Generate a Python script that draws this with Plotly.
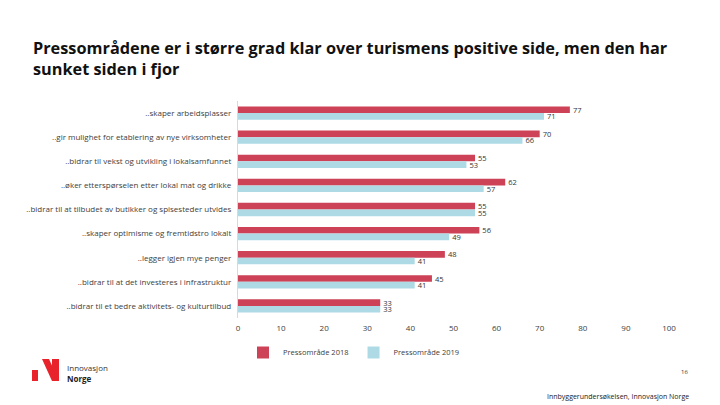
import plotly.graph_objects as go

categories = [
    "..skaper arbeidsplasser",
    "..gir mulighet for etablering av nye virksomheter",
    "..bidrar til vekst og utvikling i lokalsamfunnet",
    "..øker etterspørselen etter lokal mat og drikke",
    "..bidrar til at tilbudet av butikker og spisesteder utvides",
    "..skaper optimisme og fremtidstro lokalt",
    "..legger igjen mye penger",
    "..bidrar til at det investeres i infrastruktur",
    "..bidrar til et bedre aktivitets- og kulturtilbud",
]
values_2018 = [77, 70, 55, 62, 55, 56, 48, 45, 33]
values_2019 = [71, 66, 53, 57, 55, 49, 41, 41, 33]
series_names = ["Pressområde 2018", "Pressområde 2019"]
x_ticks = [0, 10, 20, 30, 40, 50, 60, 70, 80, 90, 100]
title_lines = ["Pressområdene er i større grad klar over turismens positive side, men den har",
               "sunket siden i fjor"]

RED = "#CD4257"
BLUE = "#ADDAE5"
FONT = "Open Sans"

# page body has an 8px margin; figure is sized to fit the 720x405 window
OFF = 8
W, H = 720 - OFF, 405 - OFF
L, R, T, B = 238 - OFF, 51, 101 - OFF, 405 - 318
PW, PH = W - L - R, H - T - B


def px(x):
    return (x - OFF - L) / PW


def py(y):
    return (H - B - (y - OFF)) / PH


fig = go.Figure()
for name, vals, col in [(series_names[0], values_2018, RED), (series_names[1], values_2019, BLUE)]:
    fig.add_trace(go.Bar(
        y=categories, x=vals, name=name, orientation="h",
        marker=dict(color=col, line=dict(width=0)),
        text=[str(v) for v in vals], textposition="outside", constraintext="none",
        textfont=dict(size=7.5, color="#333333", family=FONT),
        cliponaxis=False,
    ))

fig.update_layout(
    width=W, height=H,
    paper_bgcolor="white", plot_bgcolor="white",
    margin=dict(l=L, r=R, t=T, b=B, autoexpand=False),
    barmode="group", bargap=0.45, bargroupgap=0.0,
    font=dict(family=FONT, color="#404040"),
    showlegend=True,
    legend=dict(orientation="h", x=px(354), xanchor="center", y=py(338), yanchor="top",
                font=dict(size=7.5, color="#404040"), itemwidth=30, traceorder="normal",
                tracegroupgap=0),
    xaxis=dict(range=[0, 100], tickvals=x_ticks, showgrid=False, zeroline=False,
               showline=False, ticks="", ticklabelstandoff=4,
               tickfont=dict(size=8, color="#404040")),
    yaxis=dict(autorange="reversed", showgrid=False, showline=True, linecolor="#d9d9d9",
               linewidth=1, ticks="", ticksuffix="  ", tickfont=dict(size=8, color="#404040")),
)

fig.add_annotation(text="<b>" + "<br>".join(title_lines) + "</b>", xref="paper", yref="paper",
                   x=px(31), y=py(59), xanchor="left", yanchor="middle", align="left",
                   showarrow=False, font=dict(size=16.3, color="#111111", family=FONT))

# logo
fig.add_shape(type="rect", xref="paper", yref="paper",
              x0=px(32), x1=px(38), y0=py(381), y1=py(370),
              fillcolor="#E8232B", line=dict(width=0))
fig.add_shape(type="path", xref="paper", yref="paper",
              path="M {x0},{y0} L {x1},{y0} L {x2},{y1} L {x3},{y1} Z".format(
                  x0=px(42), x1=px(49), x2=px(59), x3=px(52), y0=py(359), y1=py(381)),
              fillcolor="#E8232B", line=dict(width=0))
fig.add_shape(type="rect", xref="paper", yref="paper",
              x0=px(52), x1=px(59), y0=py(381), y1=py(359),
              fillcolor="#E8232B", line=dict(width=0))
fig.add_annotation(text="Innovasjon", xref="paper", yref="paper", x=px(65), y=py(367),
                   xanchor="left", yanchor="middle", showarrow=False,
                   font=dict(size=8, color="#333333", family=FONT))
fig.add_annotation(text="<b>Norge</b>", xref="paper", yref="paper", x=px(65), y=py(378),
                   xanchor="left", yanchor="middle", showarrow=False,
                   font=dict(size=8, color="#222222", family=FONT))
fig.add_annotation(text="16", xref="paper", yref="paper", x=px(690), y=py(372),
                   xanchor="right", yanchor="middle", showarrow=False,
                   font=dict(size=6, color="#333333", family=FONT))
fig.add_annotation(text="Innbyggerundersøkelsen, Innovasjon Norge", xref="paper", yref="paper",
                   x=px(691), y=py(396), xanchor="right", yanchor="middle",
                   showarrow=False, font=dict(size=7, color="#222222", family=FONT))

fig.write_html("out.html")
